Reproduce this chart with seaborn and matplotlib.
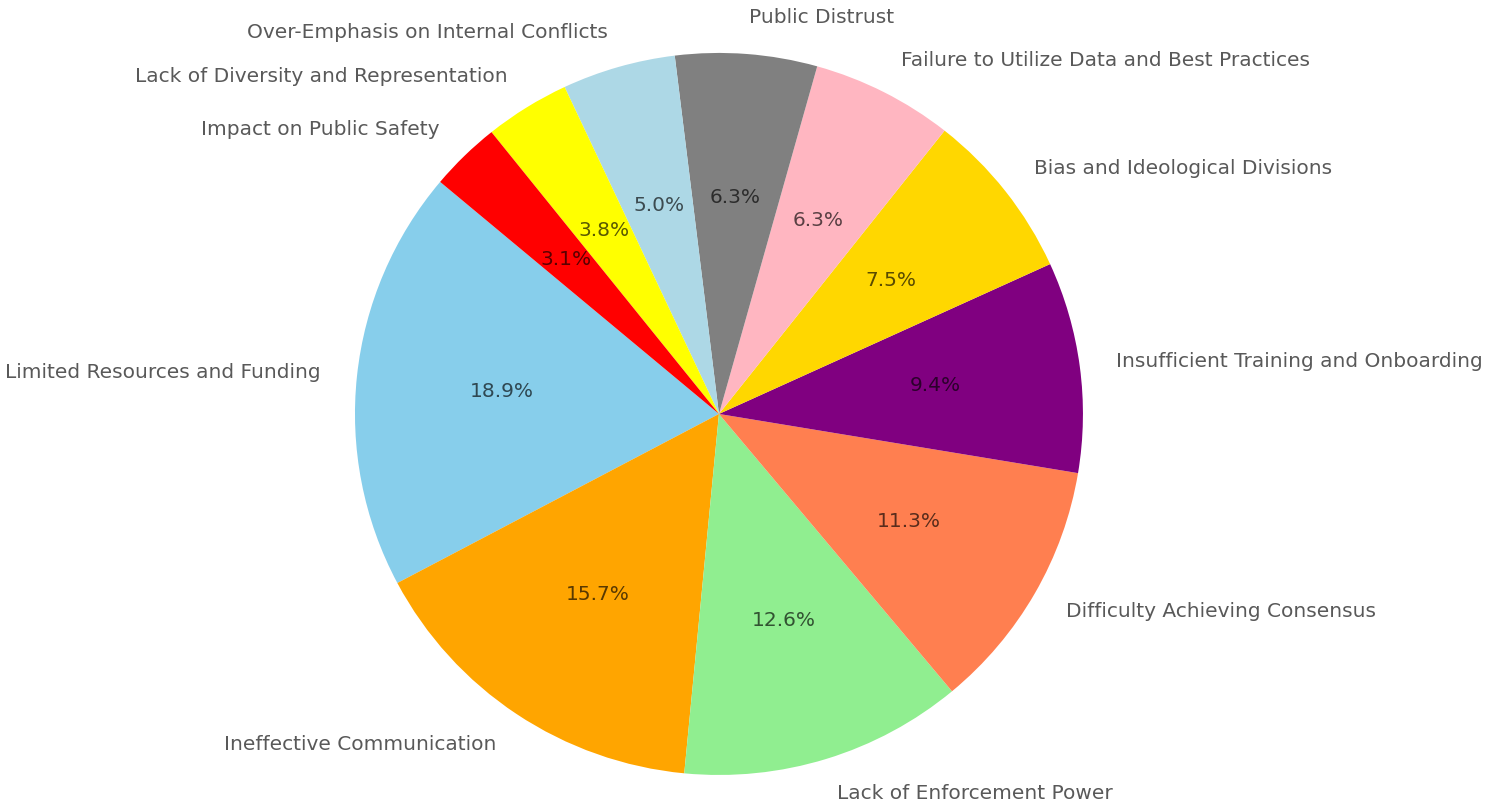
import matplotlib
matplotlib.use("Agg")
import matplotlib.pyplot as plt
import seaborn as sns

sns.set_style("white")
plt.rcParams['font.family'] = ['DejaVu Sans']

categories = [
    "Limited Resources and Funding",
    "Ineffective Communication",
    "Lack of Enforcement Power",
    "Difficulty Achieving Consensus",
    "Insufficient Training and Onboarding",
    "Bias and Ideological Divisions",
    "Failure to Utilize Data and Best Practices",
    "Public Distrust",
    "Over-Emphasis on Internal Conflicts",
    "Lack of Diversity and Representation",
    "Impact on Public Safety",
]
counts = [30, 25, 20, 18, 15, 12, 10, 10, 8, 6, 5]
colors = ["skyblue", "orange", "lightgreen", "coral", "purple", "gold",
          "lightpink", "grey", "lightblue", "yellow", "red"]

fig = plt.figure(figsize=(14.89, 8.07), dpi=100)
ax = fig.add_axes([0.2384, 0.0397, 0.4889, 0.8947])

wedges, texts, autotexts = ax.pie(
    counts, labels=categories, colors=colors, autopct="%1.1f%%",
    startangle=140, labeldistance=1.1, pctdistance=0.6,
    wedgeprops=dict(linewidth=0, edgecolor="none"),
    textprops=dict(fontsize=14.5, color="black", alpha=0.65),
)
ax.set_aspect("auto")
ax.set_xlim(-1, 1)
ax.set_ylim(-1, 1)

fig.savefig("out.png", dpi=100, facecolor="white")
